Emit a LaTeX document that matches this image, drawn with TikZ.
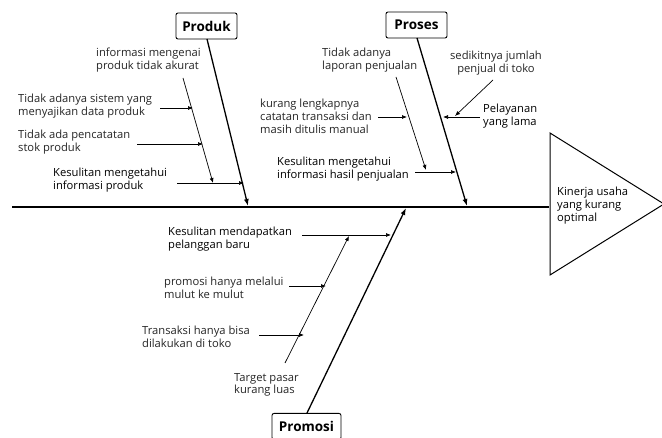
\documentclass[tikz,border=0pt]{standalone}
\usepackage{fontspec}
\setmainfont{Open Sans}
\usetikzlibrary{arrows.meta}
\tikzset{
  lbl/.style={inner sep=0pt, align=left, font=\fontsize{11.2}{12.8}\selectfont, text=black!85},
  lblm/.style={lbl, text=black},
  catbox/.style={draw, rounded corners=2pt, line width=0.9pt, font=\fontsize{13.5}{15}\selectfont\bfseries, minimum height=26pt, inner xsep=4pt},
  arr/.style={-{Latex[length=5pt,width=4pt]}, line width=0.7pt},
  bone/.style={-{Latex[length=7pt,width=5pt]}, line width=1.3pt},
}
\begin{document}
\begin{tikzpicture}[x=1pt,y=-1pt]
\useasboundingbox[fill=white] (0,0) rectangle (662,438);
% spine and head
\coordinate (sL) at (12,207);
\coordinate (sR) at (549,207);
\draw[line width=2.2pt] (sL) -- (sR);
\coordinate (t1) at (550,133);
\coordinate (t2) at (550,275);
\coordinate (t3) at (664,204);
\draw[line width=1pt, line join=miter] (t1) -- (t3) -- (t2) -- cycle;
\node[lblm, anchor=north west] (head) at (557,187) {Kinerja usaha\\yang kurang\\optimal};

% Produk
\node[catbox, minimum width=61pt] (produk) at (206.5,26) {Produk};
\coordinate (pS) at (207,39);
\coordinate (pE) at (248,206);
\draw[bone] (pS) -- (pE);
\node[lbl, anchor=north west] (p1) at (96,48) {informasi mengenai\\produk tidak akurat};
\coordinate (p1a) at (183,78);
\coordinate (p1b) at (213,183);
\draw[arr] (p1a) -- (p1b);
\node[lbl, anchor=north west] (p2) at (18,94) {Tidak adanya sistem yang\\menyajikan data produk};
\coordinate (p2a) at (160,108);
\coordinate (p2b) at (193,108);
\draw[arr] (p2a) -- (p2b);
\node[lbl, anchor=north west] (p3) at (18,130) {Tidak ada pencatatan\\stok produk};
\coordinate (p3a) at (137,144);
\coordinate (p3b) at (203,144);
\draw[arr] (p3a) -- (p3b);
\node[lblm, anchor=north west] (p4) at (53,168) {Kesulitan mengetahui\\informasi produk};
\coordinate (p4a) at (177,183);
\coordinate (p4b) at (244,183);
\draw[arr] (p4a) -- (p4b);

% Proses
\node[catbox, minimum width=61pt] (proses) at (416.5,25) {Proses};
\coordinate (rS) at (417,38);
\coordinate (rE) at (467,206);
\draw[bone] (rS) -- (rE);
\node[lbl, anchor=north west] (r1) at (322,48) {Tidak adanya\\laporan penjualan};
\coordinate (r1a) at (396,77);
\coordinate (r1b) at (426,170);
\draw[arr] (r1a) -- (r1b);
\node[lbl, align=center, anchor=north] (r2) at (496,51) {sedikitnya jumlah\\penjual di toko};
\coordinate (r2a) at (493,80);
\coordinate (r2b) at (455,116);
\draw[arr] (r2a) -- (r2b);
\node[lblm, anchor=north west] (r3) at (483,104) {Pelayanan\\yang lama};
\coordinate (r3a) at (480,117);
\coordinate (r3b) at (443,117);
\draw[arr] (r3a) -- (r3b);
\node[lbl, anchor=north west] (r4) at (260,99) {kurang lengkapnya\\catatan transaksi dan\\masih ditulis manual};
\coordinate (r4a) at (378,117);
\coordinate (r4b) at (407,117);
\draw[arr] (r4a) -- (r4b);
\node[lblm, anchor=north west] (r5) at (277,157) {Kesulitan mengetahui\\informasi hasil penjualan};
\coordinate (r5a) at (415,172);
\coordinate (r5b) at (456,172);
\draw[arr] (r5a) -- (r5b);

% Promosi
\node[catbox, minimum width=69pt, anchor=north] (promosi) at (306.5,413) {Promosi};
\coordinate (mS) at (307,413);
\coordinate (mE) at (406,208);
\draw[bone] (mS) -- (mE);
\node[lblm, anchor=north west] (m1) at (168,227) {Kesulitan mendapatkan\\pelanggan baru};
\coordinate (m1a) at (302,235);
\coordinate (m1b) at (391,235);
\draw[arr] (m1a) -- (m1b);
\coordinate (m0a) at (285,363);
\coordinate (m0b) at (349,236);
\draw[arr] (m0a) -- (m0b);
\node[lbl, anchor=north west] (m2) at (164,277) {promosi hanya melalui\\mulut ke mulut};
\coordinate (m2a) at (289,286);
\coordinate (m2b) at (326,286);
\draw[arr] (m2a) -- (m2b);
\node[lbl, anchor=north west] (m3) at (142,326) {Transaksi hanya bisa\\dilakukan di toko};
\coordinate (m3a) at (259,335);
\coordinate (m3b) at (304,335);
\draw[arr] (m3a) -- (m3b);
\node[lbl, anchor=north west] (m4) at (234,373) {Target pasar\\kurang luas};
\end{tikzpicture}
\end{document}
